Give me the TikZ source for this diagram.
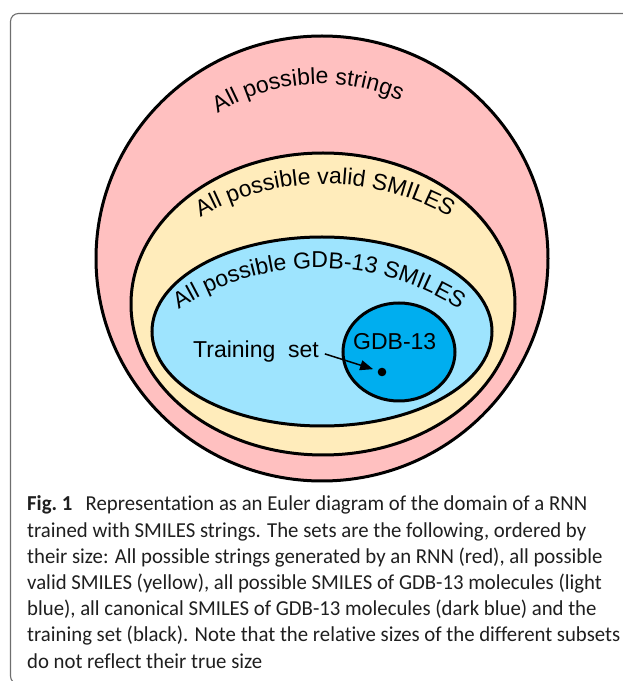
\documentclass[tikz,border=0pt]{standalone}
\usepackage{fontspec}
\setmainfont{Liberation Sans}
\newfontfamily\capfont[Ligatures=NoCommon, FakeStretch=0.975]{Carlito}
\usetikzlibrary{decorations.text,arrows.meta}
\definecolor{setpink}{RGB}{255,192,192}
\definecolor{setyellow}{RGB}{255,236,187}
\definecolor{setlight}{RGB}{158,228,254}
\definecolor{setdark}{RGB}{0,174,239}
\definecolor{framecol}{RGB}{110,110,110}
\newcommand{\setfnt}{\fontsize{23pt}{27pt}\selectfont}
\tikzset{
  setline/.style={draw=black, line width=3pt},
  arclabel/.style={decorate, decoration={text along path, text align=center, text={#1}}},
  capline/.style={anchor=base west, inner sep=0pt, font=\capfont\fontsize{21.3pt}{26pt}\selectfont, text=black!88},
  setlabel/.style={anchor=base west, inner sep=0pt, font=\setfnt},
}
\begin{document}
\begin{tikzpicture}[x=1pt,y=1pt]
\useasboundingbox (0,0) rectangle (623,681);
\clip (0,0) rectangle (623,681);
% frame
\draw[framecol, line width=1.1pt, rounded corners=8pt] (10.5,667.5) rectangle (660,-3);
% sets
\fill[setpink] (322,422.5) ellipse [x radius=226, y radius=222.5];
\draw[setline] (322,422.5) ellipse [x radius=226, y radius=222.5];
\fill[setyellow] (323,377) ellipse [x radius=192, y radius=151];
\draw[setline] (323,377) ellipse [x radius=192, y radius=151];
\fill[setlight] (322,349.5) ellipse [x radius=170, y radius=94.5];
\draw[setline] (322,349.5) ellipse [x radius=170, y radius=94.5];
\fill[setdark] (399,329) ellipse [x radius=56, y radius=49];
\draw[setline] (399,329) ellipse [x radius=56, y radius=49];
% curved labels
\path[arclabel={|\setfnt|All possible strings}] (321,402) ++(144:195) arc[start angle=144, end angle=44, radius=195];
\path[arclabel={|\setfnt|All possible valid SMILES}] (325,247) ++(130:250) arc[start angle=130, end angle=50, radius=250];
\path[arclabel={|\setfnt|All possible GDB-13 SMILES}] (319,153) ++(128:260) arc[start angle=128, end angle=52, radius=260];
% inner labels
\node[setlabel] (gdb) at (353,331.7) {GDB-13};
\node[setlabel] (train) at (193,323) {Training~~set};
\node[circle, fill=black, inner sep=0pt, minimum size=8.6pt, outer sep=0pt] (dot) at (382,309) {};
\draw[line width=1.5pt, -{Triangle[length=13pt,width=10pt]}, shorten <=6pt, shorten >=5pt] (train.east) -- (dot);
% caption
\node[capline] (cap1) at (27,170) {\textbf{Fig.~1}\hspace{0.4em} Representation as an Euler diagram of the domain of a RNN};
\node[capline] (cap2) at (27,143.8) {trained with SMILES strings. The sets are the following, ordered by};
\node[capline] (cap3) at (27,117.6) {their size: All possible strings generated by an RNN (red), all possible};
\node[capline] (cap4) at (27,91.4) {valid SMILES (yellow), all possible SMILES of GDB-13 molecules (light};
\node[capline] (cap5) at (27,65.2) {blue), all canonical SMILES of GDB-13 molecules (dark blue) and the};
\node[capline] (cap6) at (27,39) {training set (black). Note that the relative sizes of the different subsets};
\node[capline] (cap7) at (27,12.8) {do not reflect their true size};
\end{tikzpicture}
\end{document}
